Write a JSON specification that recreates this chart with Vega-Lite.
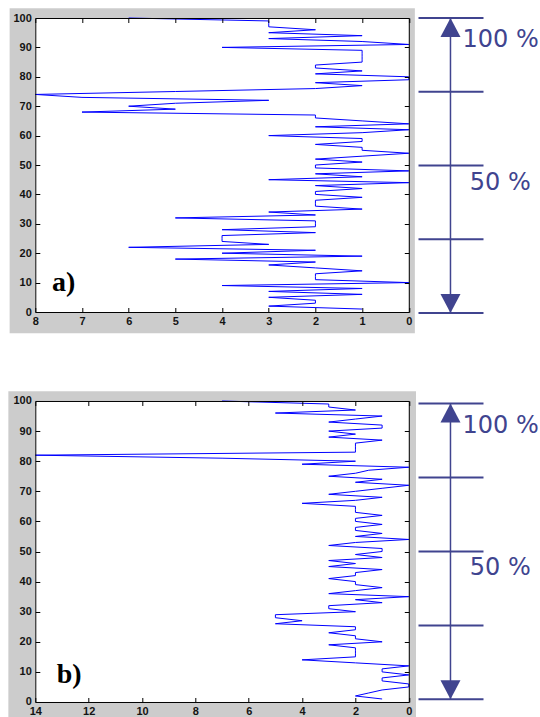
{
  "$schema": "https://vega.github.io/schema/vega-lite/v6.json",
  "padding": {"left": 8.3, "top": 8, "right": 0, "bottom": 0},
  "background": "white",
  "config": {"view": {"stroke": null}},
  "columns": 2,
  "bounds": "flush",
  "align": "each",
  "spacing": {"row": 88, "column": 9.2},
  "datasets": {
    "a": [
      {"d":1,"v":1},{"d":2,"v":3},{"d":3,"v":2},{"d":4,"v":2},{"d":5,"v":3},{"d":6,"v":1},{"d":7,"v":3},{"d":8,"v":1},{"d":9,"v":4},{"d":10,"v":0},
      {"d":11,"v":2},{"d":12,"v":2},{"d":13,"v":2},{"d":14,"v":1},{"d":15,"v":2},{"d":16,"v":3},{"d":17,"v":2},{"d":18,"v":5},{"d":19,"v":1},{"d":20,"v":4},
      {"d":21,"v":2},{"d":22,"v":6},{"d":23,"v":3},{"d":24,"v":4},{"d":25,"v":4},{"d":26,"v":4},{"d":27,"v":2},{"d":28,"v":4},{"d":29,"v":2},{"d":30,"v":2},
      {"d":31,"v":2},{"d":32,"v":5},{"d":33,"v":2},{"d":34,"v":3},{"d":35,"v":1},{"d":36,"v":2},{"d":37,"v":2},{"d":38,"v":2},{"d":39,"v":1},{"d":40,"v":2},
      {"d":41,"v":2},{"d":42,"v":1},{"d":43,"v":2},{"d":44,"v":0},{"d":45,"v":3},{"d":46,"v":1},{"d":47,"v":2},{"d":48,"v":0},{"d":49,"v":2},{"d":50,"v":2},
      {"d":51,"v":1},{"d":52,"v":2},{"d":53,"v":1},{"d":54,"v":0},{"d":55,"v":1},{"d":56,"v":1},{"d":57,"v":2},{"d":58,"v":1},{"d":59,"v":1},{"d":60,"v":3},
      {"d":61,"v":1},{"d":62,"v":0},{"d":63,"v":2},{"d":64,"v":0},{"d":65,"v":1},{"d":66,"v":2},{"d":67,"v":2},{"d":68,"v":7},{"d":69,"v":5},{"d":70,"v":6},
      {"d":71,"v":5},{"d":72,"v":3},{"d":73,"v":7},{"d":74,"v":8},{"d":75,"v":5},{"d":76,"v":2},{"d":77,"v":1},{"d":78,"v":2},{"d":79,"v":0},{"d":80,"v":0},
      {"d":81,"v":2},{"d":82,"v":1},{"d":83,"v":2},{"d":84,"v":2},{"d":85,"v":1},{"d":86,"v":1},{"d":87,"v":1},{"d":88,"v":1},{"d":89,"v":1},{"d":90,"v":4},
      {"d":91,"v":0},{"d":92,"v":1},{"d":93,"v":3},{"d":94,"v":1},{"d":95,"v":3},{"d":96,"v":2},{"d":97,"v":3},{"d":98,"v":3},{"d":99,"v":3},{"d":100,"v":6}
    ],
    "b": [
      {"d":1,"v":1},{"d":2,"v":2},{"d":3,"v":1.5},{"d":4,"v":1},{"d":5,"v":0},{"d":6,"v":0},{"d":7,"v":1},{"d":8,"v":1},{"d":9,"v":0},{"d":10,"v":1},
      {"d":11,"v":1},{"d":12,"v":0},{"d":13,"v":2},{"d":14,"v":4},{"d":15,"v":2},{"d":16,"v":2},{"d":17,"v":2},{"d":18,"v":2},{"d":19,"v":3},{"d":20,"v":1},
      {"d":21,"v":2},{"d":22,"v":2},{"d":23,"v":3},{"d":24,"v":2},{"d":25,"v":2},{"d":26,"v":5},{"d":27,"v":4},{"d":28,"v":5},{"d":29,"v":5},{"d":30,"v":2},
      {"d":31,"v":3},{"d":32,"v":3},{"d":33,"v":1},{"d":34,"v":2},{"d":35,"v":0},{"d":36,"v":3},{"d":37,"v":2},{"d":38,"v":1},{"d":39,"v":2},{"d":40,"v":2},
      {"d":41,"v":3},{"d":42,"v":2},{"d":43,"v":2},{"d":44,"v":1},{"d":45,"v":3},{"d":46,"v":2},{"d":47,"v":3},{"d":48,"v":1},{"d":49,"v":2},{"d":50,"v":1},
      {"d":51,"v":1},{"d":52,"v":3},{"d":53,"v":2},{"d":54,"v":0},{"d":55,"v":2},{"d":56,"v":1},{"d":57,"v":2},{"d":58,"v":2},{"d":59,"v":1},{"d":60,"v":2},
      {"d":61,"v":2},{"d":62,"v":1},{"d":63,"v":2},{"d":64,"v":2},{"d":65,"v":2},{"d":66,"v":4},{"d":67,"v":2},{"d":68,"v":1},{"d":69,"v":3},{"d":70,"v":2},
      {"d":71,"v":1},{"d":72,"v":0},{"d":73,"v":2},{"d":74,"v":1},{"d":75,"v":3},{"d":76,"v":2},{"d":77,"v":1.5},{"d":78,"v":0},{"d":79,"v":4},{"d":80,"v":2},
      {"d":81,"v":7},{"d":82,"v":14},{"d":83,"v":2},{"d":84,"v":2},{"d":85,"v":2},{"d":86,"v":2},{"d":87,"v":1},{"d":88,"v":3},{"d":89,"v":2},{"d":90,"v":3},
      {"d":91,"v":1},{"d":92,"v":1},{"d":93,"v":3},{"d":94,"v":2},{"d":95,"v":1},{"d":96,"v":5},{"d":97,"v":2},{"d":98,"v":3},{"d":99,"v":3},{"d":100,"v":7}
    ]
  },
  "concat": [
    {
      "width": 373.5,
      "height": 294,
      "resolve": {"axis": {"x": "independent", "y": "independent"}},
      "layer": [
        {
          "data": {"values": [{}]},
          "mark": {"type": "rect", "color": "#cccccc", "clip": false},
          "encoding": {
            "x": {"datum": 8.55, "type": "quantitative", "scale": {"domain": [0, 8], "reverse": true, "nice": false, "zero": false}, "axis": null},
            "x2": {"datum": -0.13},
            "y": {"datum": -7.25, "type": "quantitative", "scale": {"domain": [0, 100], "nice": false, "zero": false}, "axis": null},
            "y2": {"datum": 103.3}
          }
        },
        {
          "data": {"values": [{}]},
          "mark": {"type": "rect", "color": "#ffffff"},
          "encoding": {
            "x": {"datum": 8, "type": "quantitative", "axis": {"orient": "bottom", "values": [0,1,2,3,4,5,6,7,8], "title": null, "grid": false, "domain": true, "domainColor": "#000000", "domainWidth": 1, "ticks": true, "tickSize": -4.5, "tickColor": "#000000", "tickWidth": 1, "labels": true, "labelFont": "Liberation Sans", "labelFontSize": 11, "labelFontWeight": "bold", "labelColor": "#141414", "labelPadding": 8, "labelFlush": false, "labelOverlap": false, "zindex": 1}},
            "x2": {"datum": 0},
            "y": {"datum": 0, "type": "quantitative", "axis": {"orient": "left", "values": [0,10,20,30,40,50,60,70,80,90,100], "title": null, "grid": false, "domain": true, "domainColor": "#000000", "domainWidth": 1, "ticks": true, "tickSize": -4.5, "tickColor": "#000000", "tickWidth": 1, "labels": true, "labelFont": "Liberation Sans", "labelFontSize": 11, "labelFontWeight": "bold", "labelColor": "#141414", "labelPadding": 8.5, "labelFlush": false, "labelOverlap": false, "zindex": 1}},
            "y2": {"datum": 100}
          }
        },
        {
          "data": {"name": "a"},
          "mark": {"type": "line", "color": "#0000ff", "strokeWidth": 1},
          "encoding": {
            "x": {"field": "v", "type": "quantitative", "axis": {"orient": "top", "values": [0,1,2,3,4,5,6,7,8], "title": null, "grid": false, "domain": true, "domainColor": "#000000", "domainWidth": 1, "ticks": true, "tickSize": -4.5, "tickColor": "#000000", "tickWidth": 1, "labels": false, "zindex": 1}},
            "y": {"field": "d", "type": "quantitative", "axis": {"orient": "right", "values": [0,10,20,30,40,50,60,70,80,90,100], "title": null, "grid": false, "domain": true, "domainColor": "#000000", "domainWidth": 1, "ticks": true, "tickSize": -4.5, "tickColor": "#000000", "tickWidth": 1, "labels": false, "zindex": 1}},
            "order": {"field": "d", "type": "quantitative"}
          }
        },
        {
          "data": {"values": [{"label": "a)"}]},
          "mark": {"type": "text", "font": "Liberation Serif", "fontSize": 28, "fontWeight": "bold", "align": "left", "baseline": "alphabetic", "color": "#000000", "clip": false},
          "encoding": {
            "x": {"datum": 7.64, "type": "quantitative", "axis": null},
            "y": {"datum": 7.0, "type": "quantitative", "axis": null},
            "text": {"field": "label"}
          }
        }
      ]
    },
    {
      "width": 65,
      "height": 295,
      "layer": [
        {
          "data": {"values": [{"p": 0}, {"p": 25}, {"p": 50}, {"p": 75}, {"p": 100}]},
          "mark": {"type": "rule", "color": "#40448f", "strokeWidth": 2},
          "encoding": {"y": {"field": "p", "type": "quantitative", "scale": {"domain": [0, 100], "nice": false, "zero": false}, "axis": null}}
        },
        {
          "data": {"values": [{"p0": 0, "p1": 100}]},
          "mark": {"type": "rule", "color": "#40448f", "strokeWidth": 1.5},
          "encoding": {
            "x": {"datum": 0.492, "type": "quantitative", "scale": {"domain": [0, 1], "nice": false, "zero": false}, "axis": null},
            "y": {"field": "p0", "type": "quantitative", "axis": null},
            "y2": {"field": "p1"}
          }
        },
        {
          "data": {"values": [{"p": 100}]},
          "mark": {"type": "point", "shape": "M0,-0.95L1,0.95L-1,0.95Z", "size": 400, "filled": true, "opacity": 1, "color": "#40448f", "yOffset": 9.5},
          "encoding": {"x": {"datum": 0.492, "type": "quantitative", "axis": null}, "y": {"field": "p", "type": "quantitative", "axis": null}}
        },
        {
          "data": {"values": [{"p": 0}]},
          "mark": {"type": "point", "shape": "M0,0.95L1,-0.95L-1,-0.95Z", "size": 400, "filled": true, "opacity": 1, "color": "#40448f", "yOffset": -9.5},
          "encoding": {"x": {"datum": 0.492, "type": "quantitative", "axis": null}, "y": {"field": "p", "type": "quantitative", "axis": null}}
        },
        {
          "data": {"values": [{"p": 100, "t": "100 %"}]},
          "mark": {"type": "text", "font": "DejaVu Sans", "fontSize": 24, "align": "left", "baseline": "alphabetic", "dy": 29, "color": "#40448f", "clip": false},
          "encoding": {"x": {"datum": 0.677, "type": "quantitative", "axis": null}, "y": {"field": "p", "type": "quantitative", "axis": null}, "text": {"field": "t"}}
        },
        {
          "data": {"values": [{"p": 50, "t": "50 %"}]},
          "mark": {"type": "text", "font": "DejaVu Sans", "fontSize": 24, "align": "left", "baseline": "alphabetic", "dy": 24, "color": "#40448f", "clip": false},
          "encoding": {"x": {"datum": 0.79, "type": "quantitative", "axis": null}, "y": {"field": "p", "type": "quantitative", "axis": null}, "text": {"field": "t"}}
        }
      ]
    },
    {
      "width": 373.5,
      "height": 301,
      "resolve": {"axis": {"x": "independent", "y": "independent"}},
      "layer": [
        {
          "data": {"values": [{}]},
          "mark": {"type": "rect", "color": "#cccccc", "clip": false},
          "encoding": {
            "x": {"datum": 15.01, "type": "quantitative", "scale": {"domain": [0, 14], "reverse": true, "nice": false, "zero": false}, "axis": null},
            "x2": {"datum": -0.27},
            "y": {"datum": -5.08, "type": "quantitative", "scale": {"domain": [0, 100], "nice": false, "zero": false}, "axis": null},
            "y2": {"datum": 103.22}
          }
        },
        {
          "data": {"values": [{}]},
          "mark": {"type": "rect", "color": "#ffffff"},
          "encoding": {
            "x": {"datum": 14, "type": "quantitative", "axis": {"orient": "bottom", "values": [0,2,4,6,8,10,12,14], "title": null, "grid": false, "domain": true, "domainColor": "#000000", "domainWidth": 1, "ticks": true, "tickSize": -4.5, "tickColor": "#000000", "tickWidth": 1, "labels": true, "labelFont": "Liberation Sans", "labelFontSize": 11, "labelFontWeight": "bold", "labelColor": "#141414", "labelPadding": 8, "labelFlush": false, "labelOverlap": false, "zindex": 1}},
            "x2": {"datum": 0},
            "y": {"datum": 0, "type": "quantitative", "axis": {"orient": "left", "values": [0,10,20,30,40,50,60,70,80,90,100], "title": null, "grid": false, "domain": true, "domainColor": "#000000", "domainWidth": 1, "ticks": true, "tickSize": -4.5, "tickColor": "#000000", "tickWidth": 1, "labels": true, "labelFont": "Liberation Sans", "labelFontSize": 11, "labelFontWeight": "bold", "labelColor": "#141414", "labelPadding": 8.5, "labelFlush": false, "labelOverlap": false, "zindex": 1}},
            "y2": {"datum": 100}
          }
        },
        {
          "data": {"name": "b"},
          "mark": {"type": "line", "color": "#0000ff", "strokeWidth": 1},
          "encoding": {
            "x": {"field": "v", "type": "quantitative", "axis": {"orient": "top", "values": [0,2,4,6,8,10,12,14], "title": null, "grid": false, "domain": true, "domainColor": "#000000", "domainWidth": 1, "ticks": true, "tickSize": -4.5, "tickColor": "#000000", "tickWidth": 1, "labels": false, "zindex": 1}},
            "y": {"field": "d", "type": "quantitative", "axis": {"orient": "right", "values": [0,10,20,30,40,50,60,70,80,90,100], "title": null, "grid": false, "domain": true, "domainColor": "#000000", "domainWidth": 1, "ticks": true, "tickSize": -4.5, "tickColor": "#000000", "tickWidth": 1, "labels": false, "zindex": 1}},
            "order": {"field": "d", "type": "quantitative"}
          }
        },
        {
          "data": {"values": [{"label": "b)"}]},
          "mark": {"type": "text", "font": "Liberation Serif", "fontSize": 28, "fontWeight": "bold", "align": "left", "baseline": "alphabetic", "color": "#000000", "clip": false},
          "encoding": {
            "x": {"datum": 13.2, "type": "quantitative", "axis": null},
            "y": {"datum": 6.45, "type": "quantitative", "axis": null},
            "text": {"field": "label"}
          }
        }
      ]
    },
    {
      "width": 65,
      "height": 301,
      "layer": [
        {
          "data": {"values": [{"p": 0}, {"p": 25}, {"p": 50}, {"p": 75}, {"p": 100}]},
          "mark": {"type": "rule", "color": "#40448f", "strokeWidth": 2},
          "encoding": {"y": {"field": "p", "type": "quantitative", "scale": {"domain": [-0.91, 100.88], "nice": false, "zero": false}, "axis": null}}
        },
        {
          "data": {"values": [{"p0": 0, "p1": 100}]},
          "mark": {"type": "rule", "color": "#40448f", "strokeWidth": 1.5},
          "encoding": {
            "x": {"datum": 0.492, "type": "quantitative", "scale": {"domain": [0, 1], "nice": false, "zero": false}, "axis": null},
            "y": {"field": "p0", "type": "quantitative", "axis": null},
            "y2": {"field": "p1"}
          }
        },
        {
          "data": {"values": [{"p": 100}]},
          "mark": {"type": "point", "shape": "M0,-0.95L1,0.95L-1,0.95Z", "size": 400, "filled": true, "opacity": 1, "color": "#40448f", "yOffset": 9.5},
          "encoding": {"x": {"datum": 0.492, "type": "quantitative", "axis": null}, "y": {"field": "p", "type": "quantitative", "axis": null}}
        },
        {
          "data": {"values": [{"p": 0}]},
          "mark": {"type": "point", "shape": "M0,0.95L1,-0.95L-1,-0.95Z", "size": 400, "filled": true, "opacity": 1, "color": "#40448f", "yOffset": -9.5},
          "encoding": {"x": {"datum": 0.492, "type": "quantitative", "axis": null}, "y": {"field": "p", "type": "quantitative", "axis": null}}
        },
        {
          "data": {"values": [{"p": 100, "t": "100 %"}]},
          "mark": {"type": "text", "font": "DejaVu Sans", "fontSize": 24, "align": "left", "baseline": "alphabetic", "dy": 29, "color": "#40448f", "clip": false},
          "encoding": {"x": {"datum": 0.677, "type": "quantitative", "axis": null}, "y": {"field": "p", "type": "quantitative", "axis": null}, "text": {"field": "t"}}
        },
        {
          "data": {"values": [{"p": 50, "t": "50 %"}]},
          "mark": {"type": "text", "font": "DejaVu Sans", "fontSize": 24, "align": "left", "baseline": "alphabetic", "dy": 24, "color": "#40448f", "clip": false},
          "encoding": {"x": {"datum": 0.79, "type": "quantitative", "axis": null}, "y": {"field": "p", "type": "quantitative", "axis": null}, "text": {"field": "t"}}
        }
      ]
    }
  ]
}
